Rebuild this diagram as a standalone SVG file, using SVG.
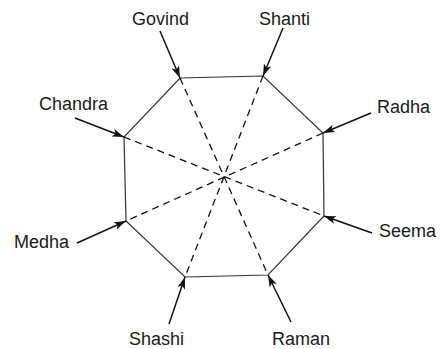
<svg xmlns="http://www.w3.org/2000/svg" width="442" height="349" viewBox="0 0 442 349">
<style>
.lbl{font-family:"Liberation Sans",Arial,sans-serif;font-size:18px;fill:#1a1a1a}
.oct{fill:none;stroke:#333;stroke-width:1.2}
.dash{stroke:#111;stroke-width:1.3;stroke-dasharray:7 5;fill:none}
.arr{stroke:#111;stroke-width:1.5;fill:none;marker-end:url(#ah)}
</style>
<defs>
<marker id="ah" viewBox="0 0 12 8" refX="12" refY="4" markerWidth="12" markerHeight="8" markerUnits="userSpaceOnUse" orient="auto">
<path d="M0,0 L12,4 L0,8 L3,4 Z" fill="#111"/>
</marker>
</defs>
<g id="octagon">
<polygon class="oct" points="180,78 263,76 323,133 324,216 268,275 185,277 126,221 124,137"/>
</g>
<g id="connectors">
<line class="dash" x1="180" y1="78" x2="268" y2="275"/>
<line class="dash" x1="263" y1="76" x2="185" y2="277"/>
<line class="dash" x1="124" y1="137" x2="324" y2="216"/>
<line class="dash" x1="323" y1="133" x2="126" y2="221"/>
<line class="arr" x1="160" y1="31" x2="180" y2="78"/>
<line class="arr" x1="283" y1="28" x2="263" y2="76"/>
<line class="arr" x1="371" y1="113" x2="323" y2="133"/>
<line class="arr" x1="372" y1="233" x2="324" y2="216"/>
<line class="arr" x1="291" y1="322" x2="268" y2="275"/>
<line class="arr" x1="169" y1="324" x2="185" y2="277"/>
<line class="arr" x1="77" y1="243" x2="126" y2="221"/>
<line class="arr" x1="75" y1="118" x2="124" y2="137"/>
</g>
<g id="govind"><text class="lbl" x="132" y="25">Govind</text></g>
<g id="shanti"><text class="lbl" x="259" y="25">Shanti</text></g>
<g id="chandra"><text class="lbl" x="39" y="110">Chandra</text></g>
<g id="radha"><text class="lbl" x="377" y="113">Radha</text></g>
<g id="medha"><text class="lbl" x="14" y="248">Medha</text></g>
<g id="seema"><text class="lbl" x="379" y="237">Seema</text></g>
<g id="shashi"><text class="lbl" x="129" y="345">Shashi</text></g>
<g id="raman"><text class="lbl" x="272" y="345">Raman</text></g>
</svg>
